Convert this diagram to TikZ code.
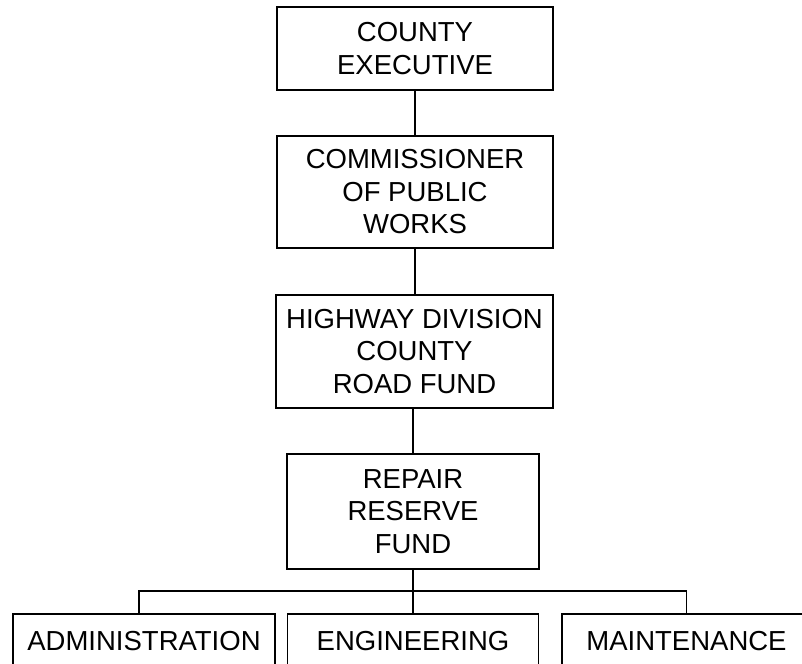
\documentclass[tikz,border=0pt]{standalone}
\usepackage{fontspec}
\setmainfont{Liberation Sans}
\begin{document}
\begin{tikzpicture}[x=1pt,y=-1pt,
  box/.style={draw, line width=1.5pt, align=center, inner sep=0pt,
    font=\fontsize{27.5}{32.5}\selectfont},
  lowbox/.style={draw, line width=1.5pt, anchor=north, inner xsep=0pt, inner ysep=0pt,
    text height=37pt, text depth=80pt, font=\fontsize{27.5}{32.5}\selectfont},
  link/.style={line width=1.5pt}]
\useasboundingbox (0,0) rectangle (802,663);
\clip (0,0) rectangle (802,663);
\node[box, minimum width=276pt, minimum height=83pt] (b1) at (415,48.5) {COUNTY\\EXECUTIVE};
\node[box, minimum width=276pt, minimum height=112pt] (b2) at (415,192) {COMMISSIONER\\OF PUBLIC\\WORKS};
\node[box, minimum width=277pt, minimum height=113pt] (b3) at (414.5,351.5) {HIGHWAY DIVISION\\COUNTY\\ROAD FUND};
\node[box, minimum width=252pt, minimum height=115pt] (b4) at (413,511.5) {REPAIR\\RESERVE\\FUND};
\node[lowbox, minimum width=262pt] (adm) at (144,613) {ADMINISTRATION};
\node[lowbox, minimum width=251pt] (eng) at (413,613) {ENGINEERING};
\node[lowbox, minimum width=249pt] (mnt) at (686.5,613) {MAINTENANCE};
\coordinate (bus) at (413,591);
\draw[link] (b1.south) -- (b1.south |- b2.north);
\draw[link] (b2.south) -- (b2.south |- b3.north);
\draw[link] (b4.north |- b3.south) -- (b4.north);
\draw[link] (b4.south) -- (eng.north);
\draw[link] ([xshift=-5pt]adm.north) |- (bus) -| (mnt.north);
\end{tikzpicture}
\end{document}
